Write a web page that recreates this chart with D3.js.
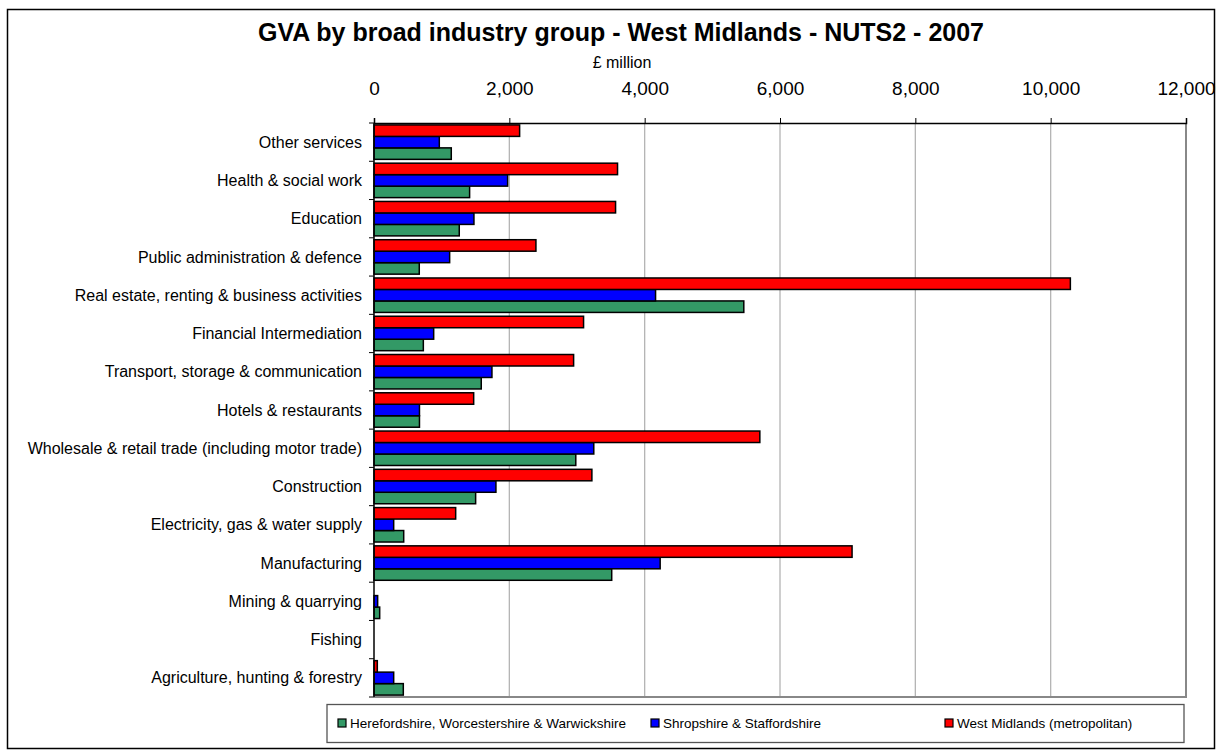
<!DOCTYPE html>
<html>
<head>
<meta charset="utf-8">
<script src="https://cdn.jsdelivr.net/npm/d3@7"></script>
<style>
  body { margin: 0; background: #fff; }
  svg { display: block; font-family: "Liberation Sans", Arial, sans-serif; }
</style>
</head>
<body>
<div class="canvas"></div>
<script>
// categories, top to bottom as drawn
const categories = [
    'Other services',
    'Health & social work',
    'Education',
    'Public administration & defence',
    'Real estate, renting & business activities',
    'Financial Intermediation',
    'Transport, storage & communication',
    'Hotels & restaurants',
    'Wholesale & retail trade (including motor trade)',
    'Construction',
    'Electricity, gas & water supply',
    'Manufacturing',
    'Mining & quarrying',
    'Fishing',
    'Agriculture, hunting & forestry'
]

const seriesNames = [
    'Herefordshire, Worcestershire & Warwickshire',
    'Shropshire & Staffordshire',
    'West Midlands (metropolitan)'
]

// £ million, same order as categories
const hww = [1142, 1413, 1260, 669, 5465, 729, 1585, 672, 2982, 1502, 439, 3513, 84, 0, 433]
const ss = [965, 1975, 1477, 1118, 4161, 882, 1743, 672, 3248, 1802, 291, 4229, 54, 0, 291]
const wm = [2152, 3599, 3570, 2393, 10291, 3097, 2950, 1473, 5702, 3220, 1207, 7065, 0, 0, 49]

const xTicks = [0, 2000, 4000, 6000, 8000, 10000, 12000]
const colours = ['#339966', '#0000ff', '#ff0000']

const width = 1222
const height = 755

const svg = d3.select('.canvas')
    .append('svg')
    .attr('width', width)
    .attr('height', height)

// outer chart border
svg.append('rect')
    .attr('x', 7.5).attr('y', 9.5)
    .attr('width', 1207).attr('height', 739)
    .attr('fill', '#fff')
    .attr('stroke', '#000')
    .attr('stroke-width', 1.5)

const margin = { top: 123, right: 36, bottom: 58, left: 374 }
const graphWidth = width - margin.left - margin.right
const graphHeight = height - margin.top - margin.bottom

const graph = svg.append('g')
    .attr('transform', `translate(${margin.left}, ${margin.top})`)

// scales
const x = d3.scaleLinear()
    .domain([0, 12000])
    .range([0, graphWidth])

const y0 = d3.scaleBand()
    .domain(categories)
    .range([0, graphHeight])
    .paddingInner(0.1)
    .paddingOuter(0.05)

const y1 = d3.scaleBand()
    .domain([2, 1, 0]) // red on top, green at bottom
    .range([0, y0.bandwidth()])

// gridlines
graph.append('g')
    .selectAll('line')
    .data(xTicks.slice(1))
    .enter()
    .append('line')
    .attr('x1', d => x(d)).attr('x2', d => x(d))
    .attr('y1', 0).attr('y2', graphHeight)
    .attr('stroke', '#b4b4b4')
    .attr('stroke-width', 1.3)

// plot frame right & bottom
graph.append('path')
    .attr('d', `M${graphWidth},0V${graphHeight}H0`)
    .attr('fill', 'none')
    .attr('stroke', '#888')
    .attr('stroke-width', 2)

// bars
const rows = categories.map((c, i) => ({ cat: c, vals: [hww[i], ss[i], wm[i]] }))

const groups = graph.selectAll('g.row')
    .data(rows)
    .enter()
    .append('g')
    .attr('class', 'row')
    .attr('transform', d => `translate(0, ${y0(d.cat)})`)

groups.selectAll('rect')
    .data(d => d.vals.map((v, k) => ({ k, v })).filter(d => d.v > 0))
    .enter()
    .append('rect')
    .attr('x', x(0))
    .attr('y', d => y1(d.k))
    .attr('width', d => x(d.v) - x(0))
    .attr('height', y1.bandwidth())
    .attr('fill', d => colours[d.k])
    .attr('stroke', '#000')
    .attr('stroke-width', 1.5)

// axes
const xAxis = d3.axisTop(x)
    .tickValues(xTicks)
    .tickSize(5)
    .tickPadding(23)
    .tickFormat(d3.format(','))

const xAxisGroup = graph.append('g').call(xAxis)
xAxisGroup.select('.domain').attr('stroke-width', 1.5)
xAxisGroup.selectAll('text')
    .attr('font-size', 19)
    .attr('fill', '#000')
    .style('font-family', '"Liberation Sans", Arial, sans-serif')

// left axis: ticks at category boundaries
const yAxisGroup = graph.append('g')
yAxisGroup.append('line')
    .attr('x1', 0).attr('x2', 0)
    .attr('y1', 0).attr('y2', graphHeight)
    .attr('stroke', '#000')
    .attr('stroke-width', 1.5)

const step = y0.step()
yAxisGroup.selectAll('line.tick')
    .data(d3.range(categories.length + 1))
    .enter()
    .append('line')
    .attr('class', 'tick')
    .attr('x1', -5).attr('x2', 0)
    .attr('y1', i => i * step).attr('y2', i => i * step)
    .attr('stroke', '#000')

yAxisGroup.selectAll('text')
    .data(categories)
    .enter()
    .append('text')
    .attr('x', -12)
    .attr('y', d => y0(d) + y0.bandwidth() / 2)
    .attr('dy', '0.35em')
    .attr('text-anchor', 'end')
    .attr('font-size', 16)
    .text(d => d)

// title & axis caption
svg.append('text')
    .attr('x', 621).attr('y', 41)
    .attr('text-anchor', 'middle')
    .attr('font-size', 25)
    .attr('font-weight', 'bold')
    .text('GVA by broad industry group - West Midlands - NUTS2 - 2007')

svg.append('text')
    .attr('x', 622).attr('y', 68)
    .attr('text-anchor', 'middle')
    .attr('font-size', 16)
    .text('£ million')

// legend
const legend = svg.append('g')
legend.append('rect')
    .attr('x', 327).attr('y', 704.5)
    .attr('width', 857).attr('height', 38)
    .attr('fill', '#fff')
    .attr('stroke', '#555')
    .attr('stroke-width', 1.3)

const legendX = [338, 651, 945]
seriesNames.forEach((name, k) => {
    legend.append('rect')
        .attr('x', legendX[k]).attr('y', 719)
        .attr('width', 8).attr('height', 8)
        .attr('fill', colours[k])
        .attr('stroke', '#000')
        .attr('stroke-width', 1.2)
    legend.append('text')
        .attr('x', legendX[k] + 12).attr('y', 723)
        .attr('dy', '0.35em')
        .attr('font-size', 13.5)
        .text(name)
})
</script>
</body>
</html>
